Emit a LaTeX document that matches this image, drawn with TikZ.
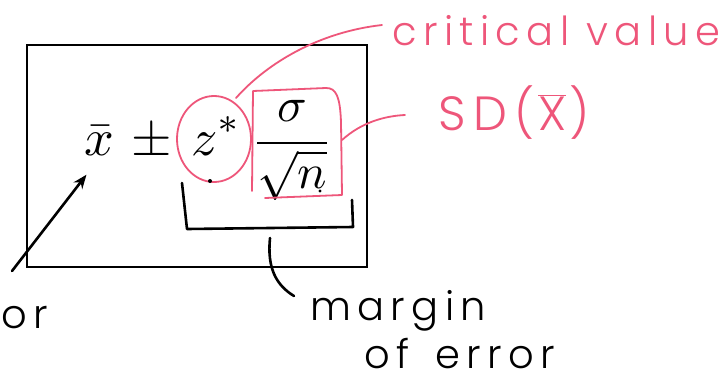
\documentclass[tikz,border=0pt]{standalone}
\usepackage{graphicx}
\usepackage{fontspec}
\usetikzlibrary{arrows.meta}
\newfontfamily\hand[LetterSpace=16]{Poppins Light}
\definecolor{inkpink}{RGB}{238,86,122}
\newcommand{\bigmath}[1]{\scalebox{5.2}{$\displaystyle #1$}}
\tikzset{
  ink/.style={line width=2.6pt, line cap=round, line join=round, black},
  pinkink/.style={line width=1.8pt, line cap=round, line join=round, inkpink},
  formula/.style={inner sep=0pt, anchor=base west},
  note/.style={inner sep=0pt, anchor=base west, font=\hand\fontsize{40}{44}\selectfont},
}
\begin{document}
\begin{tikzpicture}[x=1pt,y=-1pt]
\useasboundingbox (0,0) rectangle (719,375);
\fill[white] (0,0) rectangle (719,375);

% frame round the formula
\draw[line width=1.8pt] (27,45) rectangle (367,267);

% the interval formula
\node[formula] (xbar) at (84,155) {\bigmath{\bar{x}}};
\node[formula] (pm) at (131,155) {\bigmath{\pm}};
\node[formula] (zstar) at (191,155) {\bigmath{z^{*}}};
\node[formula] (frac) at (251,155) {\scalebox{4.9}{$\displaystyle\frac{\sigma}{\sqrt{n}}$}};

% pink marks: circle on z*, box on sigma/sqrt(n)
\draw[pinkink] (214,139) ellipse [x radius=37, y radius=43];
\draw[pinkink] (265,198) -- (342,195) -- (341,122)
  .. controls (340,96) and (336,88) .. (326,88) -- (253,91) -- (252,191);
\coordinate (cvtip) at (382,25);
\coordinate (sdtip) at (405,115);
\draw[pinkink] (236,98) .. controls (268,62) and (320,32) .. (cvtip);
\draw[pinkink] (342,140) .. controls (362,122) and (385,116) .. (sdtip);

\node[note, text=inkpink] (crit) at (392,45) {critical value};
\node[note, text=inkpink, font=\hand\fontsize{48}{52}\selectfont] (sd)
  at (438,130) {SD(\kern3pt$\overline{\hbox{X}}$\kern3pt)};

% bracket under the margin of error and its leader
\draw[ink] (182,183) -- (187,229) -- (353,227) -- (352,200);
\coordinate (brmid) at (270,238);
\coordinate (moetip) at (294,296);
\draw[ink] (brmid) .. controls (267,268) and (276,285) .. (moetip);
\node[note] (margin) at (310,320) {margin};
\node[note] (oferr) at (364,368) {of\hspace{26pt}error};

% small ink dots
\fill (210,181) circle (2pt);
\fill (320,191) circle (1.6pt);

% arrow to the estimate
\coordinate (esttail) at (12,271);
\node[inner sep=0pt] (xhead) at (87,174) {};
\draw[ink, -{Stealth[length=14pt,width=11pt]}] (esttail) -- (xhead);
\node[note, anchor=base east] (estword) at (48,328) {or};
\end{tikzpicture}
\end{document}
